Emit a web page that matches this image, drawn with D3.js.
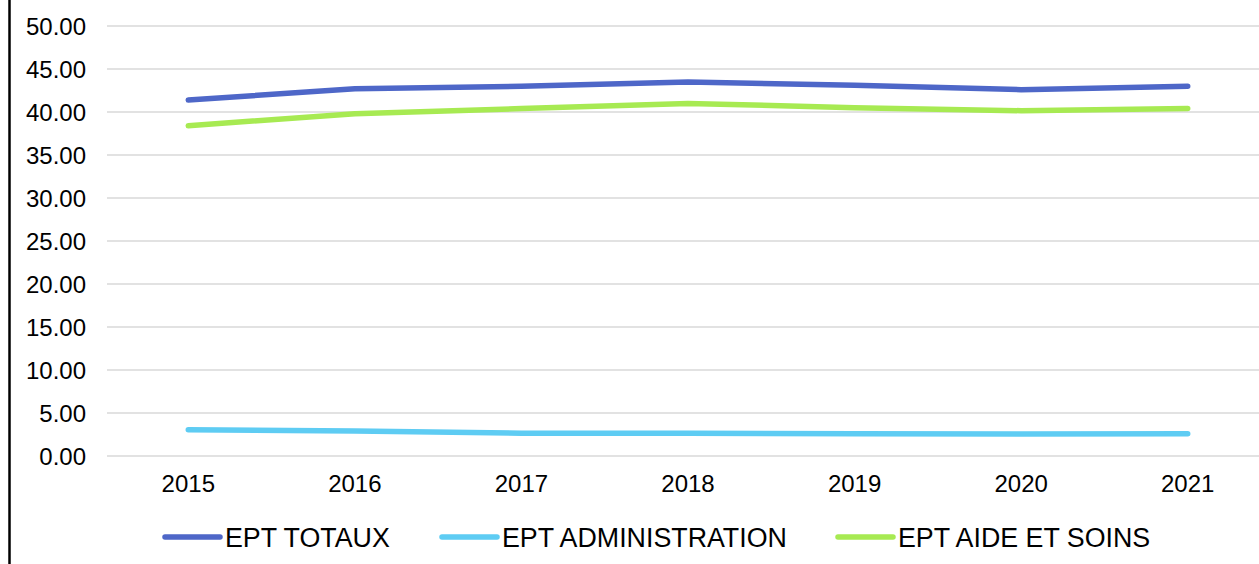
<!DOCTYPE html>
<html>
<head>
<meta charset="utf-8">
<script src="https://cdn.jsdelivr.net/npm/d3@7"></script>
<style>
  html, body { margin: 0; padding: 0; background: #fff; }
  svg { display: block; font-family: "Liberation Sans", Arial, sans-serif; }
</style>
</head>
<body>
<svg id="chart"></svg>
<script>
let width = 1259;
let height = 564;

// data
let years = ['2015', '2016', '2017', '2018', '2019', '2020', '2021'];
let totaux = [41.4, 42.7, 43.0, 43.5, 43.1, 42.6, 43.0];
let administration = [3.05, 2.9, 2.65, 2.65, 2.6, 2.55, 2.6];
let aideSoins = [38.4, 39.8, 40.4, 41.0, 40.5, 40.15, 40.4];
let seriesNames = ['EPT TOTAUX', 'EPT ADMINISTRATION', 'EPT AIDE ET SOINS'];
let yTicks = [0, 5, 10, 15, 20, 25, 30, 35, 40, 45, 50];

let colors = ['#4E67C8', '#5ECCF3', '#A7EA52'];
let series = [totaux, administration, aideSoins];

let padding = { left: 105, right: 1271, top: 26, bottom: 456 };

let svg = d3.select('#chart')
    .attr('width', width)
    .attr('height', height);

// frame line on the left
svg.append('line')
    .attr('x1', 9.5).attr('x2', 9.5)
    .attr('y1', 0).attr('y2', height)
    .attr('stroke', '#000')
    .attr('stroke-width', 2.5);

let x = d3.scaleBand()
    .domain(years)
    .range([padding.left, padding.right])
    .padding(0);

let y = d3.scaleLinear()
    .domain([0, 50])
    .range([padding.bottom, padding.top]);

// gridlines
svg.append('g')
    .selectAll('line')
    .data(yTicks)
    .enter().append('line')
    .attr('x1', 107)
    .attr('x2', width)
    .attr('y1', d => y(d))
    .attr('y2', d => y(d))
    .attr('stroke', '#d9d9d9')
    .attr('stroke-width', 1.5);

// y axis labels
let axis_y = d3.axisLeft(y)
    .tickValues(yTicks)
    .tickFormat(d => d.toFixed(2))
    .tickSize(0)
    .tickPadding(0);
let gy = svg.append('g')
    .attr('transform', `translate(86, 0)`)
    .call(axis_y);
gy.select('.domain').remove();
gy.selectAll('text')
    .attr('font-size', '24px')
    .attr('fill', '#000')
    .attr('font-family', '"Liberation Sans", Arial, sans-serif')
    .attr('dy', '0.36em');

// x axis labels
let axis_x = d3.axisBottom(x)
    .tickSize(0)
    .tickPadding(0);
let gx = svg.append('g')
    .attr('transform', `translate(0, 492)`)
    .call(axis_x);
gx.select('.domain').remove();
gx.selectAll('text')
    .attr('font-size', '24px')
    .attr('fill', '#000')
    .attr('font-family', '"Liberation Sans", Arial, sans-serif')
    .attr('dy', 0);

// lines
let line = d3.line()
    .x((d, i) => x(years[i]) + x.bandwidth() / 2)
    .y(d => y(d));

svg.append('g')
    .selectAll('path')
    .data(series)
    .enter().append('path')
    .attr('d', d => line(d))
    .attr('fill', 'none')
    .attr('stroke', (d, i) => colors[i])
    .attr('stroke-width', 5.5)
    .attr('stroke-linecap', 'round')
    .attr('stroke-linejoin', 'round');

// legend
let legendX = [165, 442, 838];
let legend = svg.append('g')
    .selectAll('g')
    .data(seriesNames)
    .enter().append('g')
    .attr('transform', (d, i) => `translate(${legendX[i]}, 537)`);
legend.append('line')
    .attr('x1', 0).attr('x2', 55)
    .attr('y1', 0).attr('y2', 0)
    .attr('stroke', (d, i) => colors[i])
    .attr('stroke-width', 5.5)
    .attr('stroke-linecap', 'round');
legend.append('text')
    .attr('x', 60)
    .attr('y', 9.5)
    .attr('font-size', '26.8px')
    .attr('fill', '#000')
    .text(d => d);
</script>
</body>
</html>
